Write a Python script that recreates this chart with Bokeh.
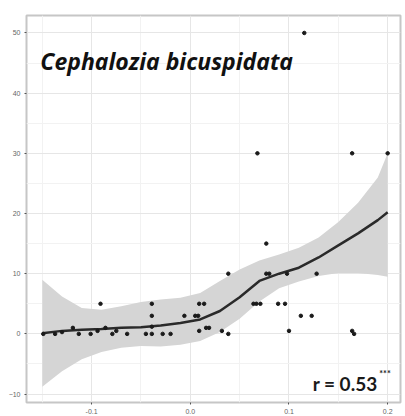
from bokeh.plotting import figure
from bokeh.models import Range1d, FixedTicker, Label
from bokeh.embed import file_html
from bokeh.resources import INLINE

# Observations: environmental gradient (x) vs. cover (y)
obs_x = [-0.149, -0.137, -0.130, -0.119, -0.113, -0.101, -0.094, -0.086, -0.079,
         -0.075, -0.064, -0.091, -0.045, -0.039, -0.039, -0.039, -0.039, -0.028,
         -0.020, -0.006, 0.005, 0.008, 0.009, 0.014, 0.009, 0.016, 0.019, 0.032,
         0.0385, 0.0385, 0.064, 0.067, 0.071, 0.077, 0.080, 0.077, 0.068, 0.089,
         0.096, 0.098, 0.128, 0.112, 0.123, 0.100, 0.164, 0.166, 0.1155, 0.164,
         0.200]
obs_y = [0, 0, 0.3, 1, 0, 0, 0.5, 1, 0,
         0.5, 0, 5, 0, 0, 1.2, 3, 5, 0,
         0, 3, 3, 3, 5, 5, 0.5, 1, 1, 0.5,
         0, 10, 5, 5, 5, 10, 10, 15, 30, 5,
         5, 10, 10, 3, 3, 0.5, 0.5, 0, 50, 30,
         30]

# Smoothed trend with its confidence band
fit_x = [-0.15, -0.13, -0.11, -0.09, -0.07, -0.05, -0.03, -0.01, 0.01, 0.03,
         0.05, 0.07, 0.09, 0.11, 0.13, 0.15, 0.17, 0.19, 0.20]
fit_y = [0.1, 0.5, 0.7, 0.8, 1.0, 1.1, 1.4, 1.8, 2.4, 3.8,
         6.1, 8.8, 10.0, 11.0, 12.7, 14.7, 16.7, 18.9, 20.2]
fit_hi = [9.0, 6.2, 4.3, 4.0, 4.6, 5.3, 5.7, 6.0, 6.8, 8.8,
          10.7, 12.2, 13.2, 14.3, 16.0, 18.6, 21.8, 26.0, 30.0]
fit_lo = [-8.8, -6.2, -4.2, -3.0, -2.3, -2.0, -2.1, -1.8, -1.2, 0.3,
          2.5, 5.4, 7.6, 8.7, 9.6, 10.1, 10.1, 9.8, 9.5]

x_ticks = [-0.1, 0.0, 0.1, 0.2]
x_tick_labels = ["-0.1", "0.0", "0.1", "0.2"]
y_ticks = [-10, 0, 10, 20, 30, 40, 50]

species = "Cephalozia bicuspidata"
corr_text = "r = 0.53"
corr_stars = "***"

p = figure(width=405, height=416, output_backend="svg", toolbar_location=None,
           x_range=Range1d(-0.166, 0.213), y_range=Range1d(-11.4, 52.9),
           min_border_left=26, min_border_right=5, min_border_top=15,
           min_border_bottom=13)
p.background_fill_color = "white"
p.border_fill_color = "white"
p.outline_line_color = "#c6c6c6"
p.outline_line_width = 2

p.xaxis.ticker = FixedTicker(ticks=x_ticks,
                             minor_ticks=[-0.15, -0.05, 0.05, 0.15])
p.xaxis.major_label_overrides = {t: s for t, s in zip(x_ticks, x_tick_labels)}
p.yaxis.ticker = FixedTicker(ticks=y_ticks,
                             minor_ticks=[-5, 5, 15, 25, 35, 45])
for ax in (p.xaxis[0], p.yaxis[0]):
    ax.axis_line_color = None
    ax.major_tick_line_color = "#555555"
    ax.major_tick_in = 0
    ax.major_tick_out = 2
    ax.minor_tick_line_color = None
    ax.major_label_text_font = "Liberation Sans"
    ax.major_label_text_font_size = "7px"
    ax.major_label_text_color = "#666666"
    ax.major_label_standoff = 2

p.xgrid.grid_line_color = "#e6e6e6"
p.ygrid.grid_line_color = "#e6e6e6"
p.xgrid.minor_grid_line_color = "#f2f2f2"
p.ygrid.minor_grid_line_color = "#f2f2f2"

p.varea(x=fit_x, y1=fit_lo, y2=fit_hi, fill_color="#d5d5d5")
p.line(fit_x, fit_y, line_color="#2a2a2a", line_width=2.5)
p.scatter(obs_x, obs_y, size=3.5, fill_color="#1a1a1a", line_color="#1a1a1a")

p.add_layout(Label(x=-0.152, y=45.3, text=species, text_font="Open Sans",
                   text_font_style="bold italic", text_font_size="23px",
                   text_color="#111111", text_baseline="alphabetic"))
p.add_layout(Label(x=0.124, y=-8.2, text=corr_text, text_font="Lato",
                   text_font_style="bold", text_font_size="19px",
                   text_color="#1a1a1a", text_baseline="alphabetic"))
p.add_layout(Label(x=0.1915, y=-6.6, text=corr_stars, text_font="Lato",
                   text_font_style="bold", text_font_size="9px",
                   text_color="#1a1a1a", text_baseline="alphabetic"))

open("out.html", "w").write(file_html(p, INLINE))
